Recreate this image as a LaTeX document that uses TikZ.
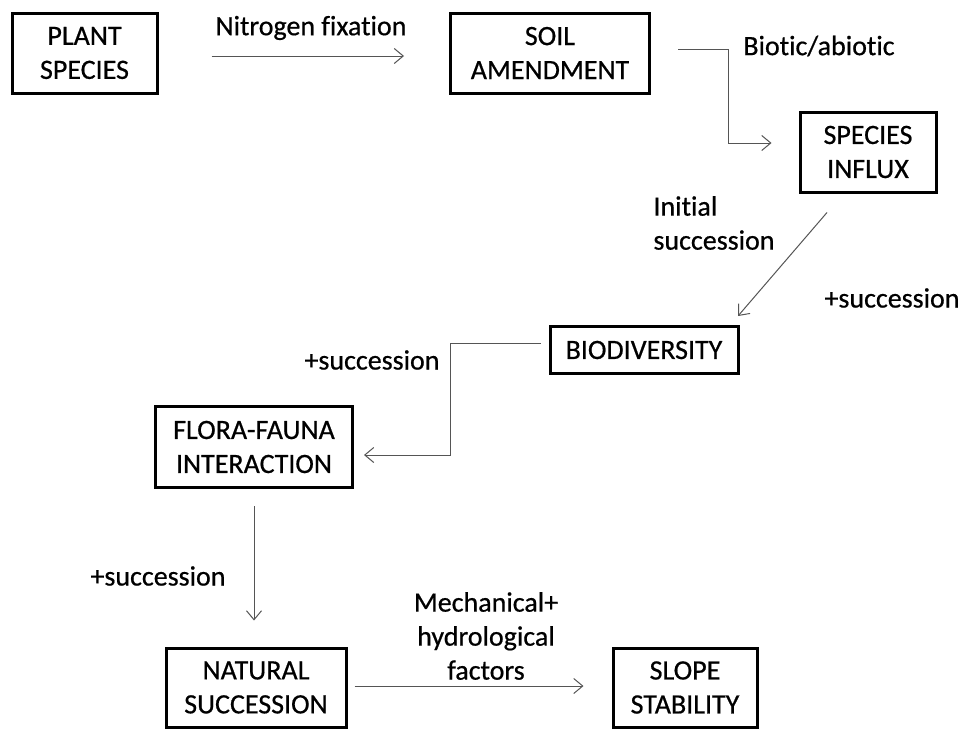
\documentclass[tikz,border=0pt]{standalone}
\usepackage{fontspec}
\setmainfont[Ligatures=NoCommon,FakeBold=0.6]{Carlito}
\usetikzlibrary{arrows.meta}
\definecolor{lineagray}{RGB}{85,85,85}
\tikzset{
  testo/.style={font=\fontsize{28}{34}\selectfont},
  scatola/.style={testo,draw=black,line width=3pt,inner sep=0pt,align=center},
  freccia/.style={draw=lineagray,line width=1pt,-{Straight Barb[length=9pt,width=15pt,line width=1pt]}},
  etichetta/.style={testo,inner sep=0pt,align=center}
}
\begin{document}
\begin{tikzpicture}[x=1pt,y=-1pt]
        \useasboundingbox[fill=white](0,0) rectangle (974,728);
        %scatole
        \node[scatola,minimum width=145,minimum height=80](plant) at (84.5,53){PLANT\\SPECIES};
        \node[scatola,minimum width=199,minimum height=80](soil) at (550,53){SOIL\\AMENDMENT};
        \node[scatola,minimum width=136,minimum height=80](influx) at (868,152){SPECIES\\INFLUX};
        \node[scatola,minimum width=188,minimum height=47](bio) at (644,350){BIODIVERSITY};
        \node[scatola,minimum width=197,minimum height=81](flora) at (254,447){FLORA-FAUNA\\INTERACTION};
        \node[scatola,minimum width=180,minimum height=79](natural) at (256,687.5){NATURAL\\SUCCESSION};
        \node[scatola,minimum width=144,minimum height=79](slope) at (685,687.5){SLOPE\\STABILITY};
        %etichette
        \node[etichetta](lnitro) at (311,28){Nitrogen fixation};
        \node[etichetta](lbiotic) at (819,46){Biotic/abiotic};
        \node[etichetta,align=left](linitial) at (714,223){Initial\\succession};
        \node[etichetta](lsucca) at (892,298){+succession};
        \node[etichetta](lsuccb) at (372,360){+succession};
        \node[etichetta](lsuccc) at (158,576){+succession};
        \node[etichetta](lmech) at (486,636){Mechanical+\\hydrological\\factors};
        %frecce
        \draw[freccia]([xshift=53pt,yshift=-3pt]plant.east)--([xshift=-45pt,yshift=-3pt]soil.west);
        \draw[freccia]([xshift=27pt,yshift=4pt]soil.east)--++(50,0)|-([xshift=-27pt,yshift=9pt]influx.west);
        \draw[freccia]([xshift=-41pt,yshift=-19pt]influx.south)--([xshift=94pt,yshift=9pt]bio.north);
        \draw[freccia]([xshift=-8pt,yshift=7pt]bio.west)--++(-90,0)|-([xshift=10pt,yshift=-8pt]flora.east);
        \draw[freccia]([yshift=-17pt]flora.south)--([xshift=-2pt,yshift=26pt]natural.north);
        \draw[freccia]([xshift=7pt,yshift=1.5pt]natural.east)--([xshift=-28pt,yshift=1.5pt]slope.west);
\end{tikzpicture}
\end{document}
